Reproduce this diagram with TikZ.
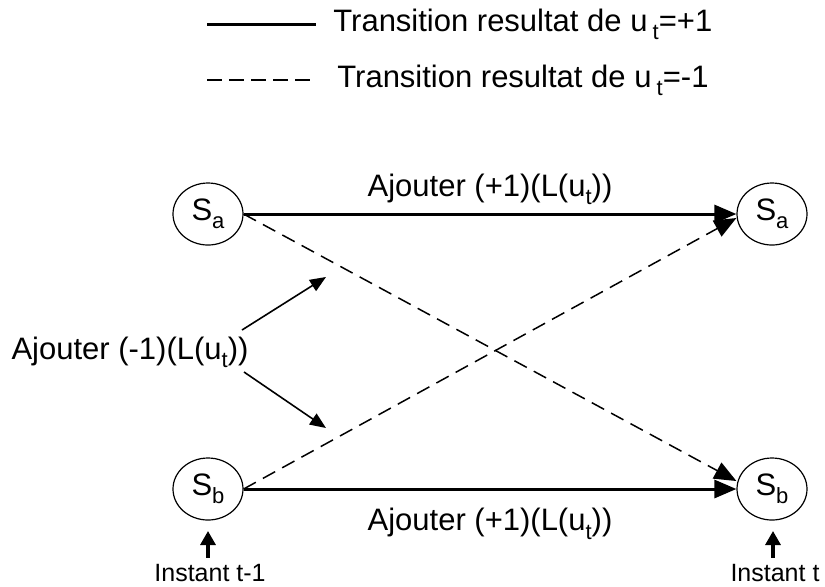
\documentclass[tikz,border=0pt]{standalone}
\usepackage{fontspec}
\setmainfont{Liberation Sans}
\usetikzlibrary{shapes.geometric, arrows.meta, positioning}
\newcommand{\lowsub}[1]{\raisebox{-0.5ex}{\fontsize{11}{11}\selectfont #1}}

\begin{document}
\begin{tikzpicture}[
  x=0.5pt, y=-0.5pt,
  every node/.style={font=\fontsize{15.5}{18}\selectfont, inner sep=0pt},
  statenode/.style={draw, ellipse, line width=0.6pt, minimum width=35pt, minimum height=31pt},
  plusedge/.style={line width=1.5pt, -{Triangle[length=11pt,width=9pt]}},
  minusedge/.style={line width=0.75pt, dash pattern=on 7pt off 4pt, -{Triangle[length=11pt,width=9pt]}},
  hintarrow/.style={line width=0.8pt, -{Triangle[length=8pt,width=6.5pt]}},
  timearrow/.style={line width=1.6pt, -{Triangle[length=7pt,width=7.5pt]}},
]
  \useasboundingbox (0,0) rectangle (825,586);

  % Legend
  \coordinate (l1a) at (207,24);
  \coordinate (l1b) at (316,24);
  \coordinate (l2a) at (207,80);
  \coordinate (l2b) at (316,80);
  \draw[line width=1.5pt] (l1a) -- (l1b);
  \draw[line width=0.75pt, dash pattern=on 7.5pt off 3.5pt] (l2a) -- (l2b);
  \node[anchor=west] (leg1) at (333,24) {Transition resultat de u\,\lowsub{t}=+1};
  \node[anchor=west] (leg2) at (337,80) {Transition resultat de u\,\lowsub{t}=-1};

  % States
  \node[statenode] (sa0) at (208,214) {S\lowsub{a}};
  \node[statenode] (sa1) at (772,214) {S\lowsub{a}};
  \node[statenode] (sb0) at (208,489) {S\lowsub{b}};
  \node[statenode] (sb1) at (772,489) {S\lowsub{b}};

  % Transitions
  \draw[plusedge] (sa0.east) -- (sa1.west)
      node[midway, above=4pt] (lab_a) {Ajouter (+1)(L(u\lowsub{t}))};
  \draw[plusedge] (sb0.east) -- (sb1.west)
      node[midway, below=9pt] (lab_b) {Ajouter (+1)(L(u\lowsub{t}))};
  \draw[minusedge] (sa0.east) -- ([yshift=4pt]sb1.west);
  \draw[minusedge] (sb0.east) -- ([yshift=-2pt]sa1.west);

  % Label for the dashed transitions
  \node (lab_m) at (130,352) {Ajouter (-1)(L(u\lowsub{t}))};
  \coordinate (up_tip) at (326,277);
  \coordinate (dn_tip) at (326,428);
  \draw[hintarrow] ([shift={(56pt,11pt)}]lab_m.center) -- (up_tip);
  \draw[hintarrow] ([shift={(57pt,-10pt)}]lab_m.center) -- (dn_tip);

  % Time instants
  \node[font=\fontsize{12.5}{14}\selectfont] (t0) at (210,573) {Instant t-1};
  \node[font=\fontsize{12.5}{14}\selectfont] (t1) at (775,573) {Instant t};
  \draw[timearrow] ([xshift=-1pt]t0.north) ++(0,3pt) -- (208,531);
  \draw[timearrow] ([xshift=-1pt]t1.north) ++(0,3pt) -- (773,531);
\end{tikzpicture}
\end{document}
